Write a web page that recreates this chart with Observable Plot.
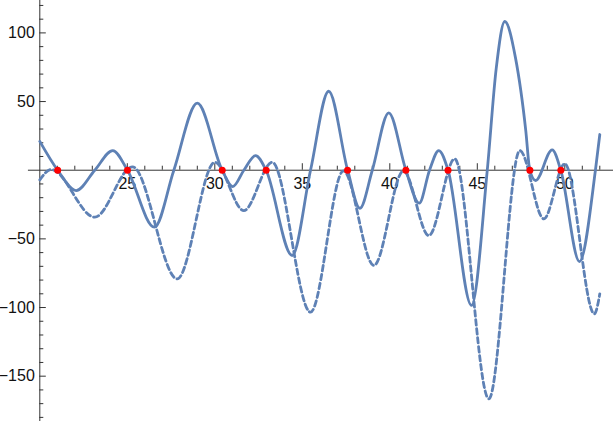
<!DOCTYPE html>
<html>
<head>
<meta charset="utf-8">
<script src="https://cdn.jsdelivr.net/npm/d3@7"></script>
<script src="https://cdn.jsdelivr.net/npm/@observablehq/plot@0.6"></script>
<style>
  html, body { margin: 0; padding: 0; background: #fff; }
  svg { display: block; }
</style>
</head>
<body>
<div id="chart"></div>
<script>
// Solid curve
const solidX = [20.0, 21.02, 22.08, 23.14, 24.17, 25.01, 26.55, 27.66, 29.0, 30.42, 31.03, 31.66, 32.33, 32.93, 34.42, 35.47, 36.51, 37.59, 38.29, 39.0, 39.94, 40.92, 41.68, 42.27, 42.8, 43.33, 44.67, 45.57, 46.08, 46.57, 47.18, 47.77, 48.0, 48.33, 49.28, 49.77, 50.84, 51.75, 52.0];
const solidY = [21, 0, -14.8, 0, 14.3, 0, -41.5, 0, 48.8, 0, -11.9, 0, 10.7, 0, -62.1, 0, 57.5, 0, -27.7, 0, 41.8, 0, -24, 0, 14.3, 0, -98.5, 0, 74, 108.3, 82, 28.9, 0, -7.5, 14.8, 0, -66.5, 0, 26];

// Dashed curve
const dashedX = [20.0, 20.65, 23.14, 25.3, 27.85, 30.0, 31.66, 33.28, 35.47, 37.35, 39.09, 40.78, 42.23, 43.71, 45.66, 47.43, 48.8, 50.0, 51.69, 52.0];
const dashedY = [-7, 0.5, -34.2, 2.5, -79.1, 5.8, -29.4, 5.8, -103.4, -0.5, -69.4, -0.5, -47.6, 8.3, -166.5, 14.3, -35.4, 4.7, -104.6, -90];

// Red points (zeros)
const zeros = [21.022, 25.011, 30.425, 32.935, 37.586, 40.919, 43.327, 48.005, 49.774];

// Ticks
const xMajor = [25, 30, 35, 40, 45, 50];
const xMinor = [21, 22, 23, 24, 26, 27, 28, 29, 31, 32, 33, 34, 36, 37, 38, 39, 41, 42, 43, 44, 46, 47, 48, 49, 51, 52];
const yMajor = [-150, -100, -50, 50, 100];
const yMinor = [-180, -170, -160, -140, -130, -120, -110, -90, -80, -70, -60, -40, -30, -20, -10, 10, 20, 30, 40, 60, 70, 80, 90, 110, 120];

const solid = solidX.map((x, i) => ({x, y: solidY[i]}));
const dashed = dashedX.map((x, i) => ({x, y: dashedY[i]}));

const lineColor = "#5E81B5";
const axisColor = "#333";
const fmt = d => d < 0 ? "\u2212" + Math.abs(d) : String(d);

const chart = Plot.plot({
  width: 613,
  height: 421,
  margin: 0,
  style: {fontFamily: "'Liberation Sans', Arial, sans-serif", fontSize: "16px", background: "#fff"},
  x: {domain: [17.754, 52.783], axis: null},
  y: {domain: [-183, 123.6], axis: null},
  marks: [
    Plot.ruleY([0], {x1: 19.35, x2: 52.8, stroke: axisColor, strokeWidth: 1}),
    Plot.ruleX([20], {stroke: axisColor, strokeWidth: 1}),
    Plot.ruleX(xMajor, {x: d => d, y1: d => 0, y2: d => 0, insetBottom: 6.5, stroke: axisColor}),
    Plot.ruleX(xMinor, {x: d => d, y1: d => 0, y2: d => 0, insetBottom: 4, stroke: axisColor}),
    Plot.ruleY(yMajor, {y: d => d, x1: d => 20, x2: d => 20, insetRight: -6.5, stroke: axisColor}),
    Plot.ruleY(yMinor, {y: d => d, x1: d => 20, x2: d => 20, insetRight: -4, stroke: axisColor}),
    Plot.text(xMajor, {x: d => d, y: d => 0, text: fmt, dy: 14, textAnchor: "middle", fill: "#111"}),
    Plot.text(yMajor, {x: d => 20, y: d => d, text: fmt, dx: -5, textAnchor: "end", fill: "#111"}),
    Plot.line(dashed, {x: "x", y: "y", curve: "monotone-x", stroke: lineColor, strokeWidth: 2.8, strokeDasharray: "5.5,3.5"}),
    Plot.line(solid, {x: "x", y: "y", curve: "monotone-x", stroke: lineColor, strokeWidth: 2.8}),
    Plot.dot(zeros, {x: d => d, y: d => 0, r: 3.5, fill: "#FF0000", stroke: null})
  ]
});
document.getElementById("chart").appendChild(chart);
</script>
</body>
</html>
